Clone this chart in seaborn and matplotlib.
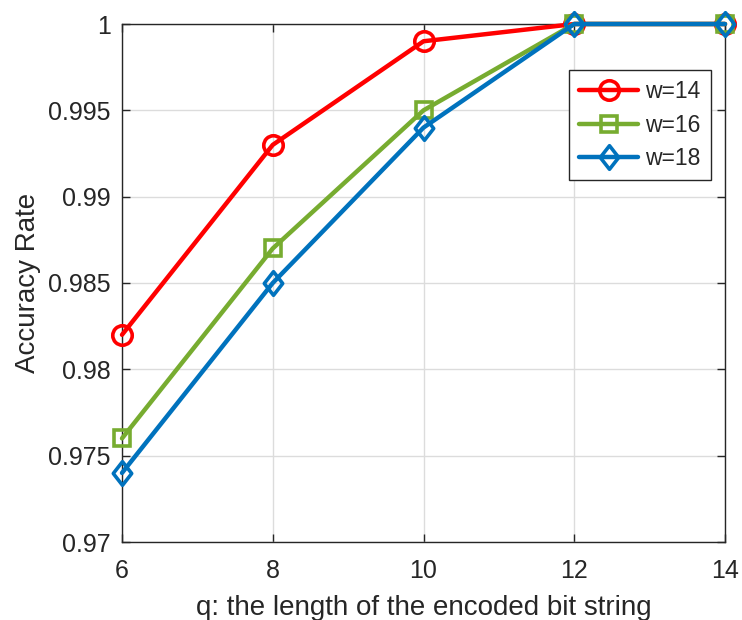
import matplotlib
matplotlib.use("Agg")
import matplotlib.pyplot as plt
from matplotlib.path import Path
import seaborn as sns
import pandas as pd

q = [6, 8, 10, 12, 14]
w14 = [0.982, 0.993, 0.999, 1.0, 1.0]
w16 = [0.976, 0.987, 0.995, 1.0, 1.0]
w18 = [0.974, 0.985, 0.994, 1.0, 1.0]
labels = ["w=14", "w=16", "w=18"]
colors = ["#FF0000", "#77AC30", "#0072BD"]
yticks = [0.97, 0.975, 0.98, 0.985, 0.99, 0.995, 1.0]
yticklabels = ["0.97", "0.975", "0.98", "0.985", "0.99", "0.995", "1"]

diamond = Path([(0, 1), (0.78, 0), (0, -1), (-0.78, 0), (0, 1)],
               [Path.MOVETO, Path.LINETO, Path.LINETO, Path.LINETO, Path.CLOSEPOLY])
markers = ["o", "s", diamond]
msizes = [14, 11, 17]

sns.set_theme(style="white")
plt.rcParams["font.family"] = ["Liberation Sans", "DejaVu Sans"]

fig = plt.figure(figsize=(7.42, 6.2), dpi=100)
ax = fig.add_axes([122/742, 1-542/620, 603/742, 518/620])

for vals, lab, c, m, ms in zip([w14, w16, w18], labels, colors, markers, msizes):
    df = pd.DataFrame({"q": q, "acc": vals})
    sns.lineplot(data=df, x="q", y="acc", ax=ax, color=c, marker=m,
                 markersize=ms, markerfacecolor="none",
                 markeredgecolor=c, markeredgewidth=2.6, linewidth=3.2,
                 label=lab, clip_on=False, zorder=3)

ax.set_xlim(6, 14)
ax.set_ylim(0.97, 1.0)
ax.set_xticks([6, 8, 10, 12, 14])
ax.set_yticks(yticks)
ax.set_yticklabels(yticklabels)
ax.grid(True, color="#DCDCDC", linewidth=1)
ax.set_axisbelow(True)
for s in ax.spines.values():
    s.set_color("#262626")
    s.set_linewidth(1)
ax.tick_params(direction="in", length=6, width=1, colors="#262626",
               labelsize=18, top=True, right=True, bottom=True, left=True,
               labelcolor="#262626")
ax.tick_params(axis="y", pad=8)
ax.tick_params(axis="x", pad=12)
ax.set_xlabel("q: the length of the encoded bit string", fontsize=20, color="#262626", labelpad=9)
ax.set_ylabel("Accuracy Rate", fontsize=20, color="#262626", labelpad=5)

leg = ax.legend(loc="upper right", bbox_to_anchor=(711/742, 1-70/620),
                bbox_transform=fig.transFigure, borderaxespad=0,
                fontsize=16.5, frameon=True, fancybox=False, handlelength=2.6,
                labelspacing=0.45, borderpad=0.45, handletextpad=0.3)
leg.get_frame().set_edgecolor("#262626")
leg.get_frame().set_linewidth(1)
leg.get_frame().set_alpha(1)

fig.savefig("out.png", dpi=100)
